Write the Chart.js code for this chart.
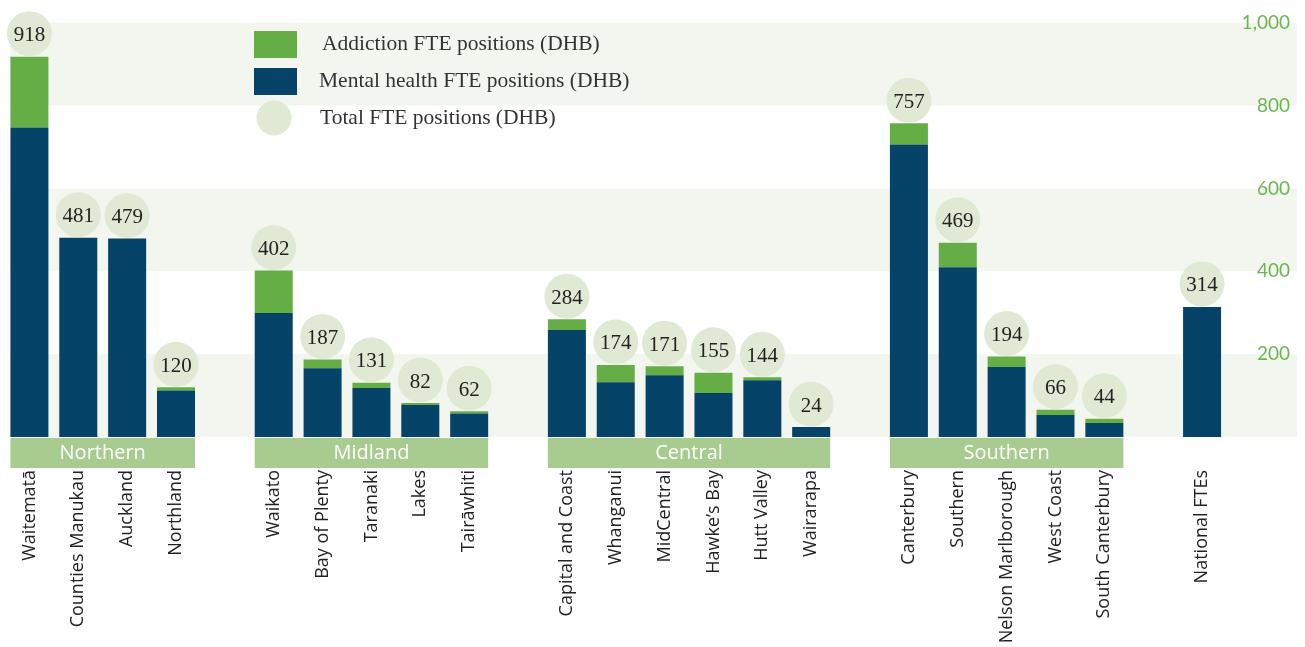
<!DOCTYPE html>
<html>
<head>
<meta charset="utf-8">
<script src="https://cdn.jsdelivr.net/npm/chart.js@4"></script>
<style>
  body { margin: 0; background: #fff; }
  #wrap { width: 1305px; height: 647px; position: relative; }
</style>
</head>
<body>
<div id="wrap"><canvas id="fteChart"></canvas></div>
<script>
// DHB names, empty strings are the gaps between regions
const categories = [
    'Waitematā', 'Counties Manukau', 'Auckland', 'Northland', '',
    'Waikato', 'Bay of Plenty', 'Taranaki', 'Lakes', 'Tairāwhiti', '',
    'Capital and Coast', 'Whanganui', 'MidCentral', 'Hawke’s Bay', 'Hutt Valley', 'Wairarapa', '',
    'Canterbury', 'Southern', 'Nelson Marlborough', 'West Coast', 'South Canterbury', '',
    'National FTEs'
];
const regions = [
    'Northern', 'Northern', 'Northern', 'Northern', '',
    'Midland', 'Midland', 'Midland', 'Midland', 'Midland', '',
    'Central', 'Central', 'Central', 'Central', 'Central', 'Central', '',
    'Southern', 'Southern', 'Southern', 'Southern', 'Southern', '',
    ''
];
const mentalHealth = [747, 481, 479, 112, null, 299, 166, 118, 77, 57, null, 258, 132, 149, 106, 137, 24, null, 706, 410, 169, 53, 34, null, 314];
const addiction = [171, 0, 0, 8, null, 103, 21, 13, 5, 5, null, 26, 42, 22, 49, 7, 0, null, 51, 59, 25, 13, 10, null, 0];
const yTicks = [200, 400, 600, 800, 1000];

const navy = '#064369';
const green = '#64ae45';
const bubble = '#dfe9d4';
const stripe = '#f3f6ef';
const regionFill = '#a8cc90';
const serif = '"Liberation Serif", serif';
const sans = '"Open Sans", sans-serif';

// light stripes behind everything
const stripesPlugin = {
    id: 'stripes',
    beforeDraw(chart) {
        const { ctx, chartArea, scales: { y } } = chart;
        const stops = [0].concat(yTicks);
        ctx.save();
        ctx.fillStyle = stripe;
        for (let i = 0; i < stops.length - 1; i += 2) {
            const top = y.getPixelForValue(stops[i + 1]);
            const bottom = y.getPixelForValue(stops[i]);
            ctx.fillRect(chartArea.left + 5, top, chart.width - 13 - chartArea.left, bottom - top);
        }
        ctx.restore();
    }
};

// region bands under the axis
const regionsPlugin = {
    id: 'regions',
    beforeDatasetsDraw(chart) {
        const { ctx, chartArea } = chart;
        const meta = chart.getDatasetMeta(0);
        const names = [...new Set(regions.filter(r => r))];
        ctx.save();
        names.forEach(name => {
            const a = meta.data[regions.indexOf(name)];
            const b = meta.data[regions.lastIndexOf(name)];
            const left = a.x - a.width / 2;
            const right = b.x + b.width / 2;
            ctx.fillStyle = regionFill;
            ctx.fillRect(left, chartArea.bottom + 1, right - left, 30);
            ctx.fillStyle = '#fff';
            ctx.font = '20px ' + sans;
            ctx.textAlign = 'center';
            ctx.textBaseline = 'middle';
            ctx.fillText(name, (left + right) / 2, chartArea.bottom + 16);
        });
        ctx.restore();
    }
};

// total bubbles above each bar and the legend
const totalsPlugin = {
    id: 'totals',
    afterDatasetsDraw(chart) {
        const { ctx } = chart;
        const m0 = chart.getDatasetMeta(0);
        const m1 = chart.getDatasetMeta(1);
        ctx.save();
        categories.forEach((c, i) => {
            if (mentalHealth[i] == null) return;
            const total = mentalHealth[i] + addiction[i];
            const x = m0.data[i].x;
            const top = Math.min(m0.data[i].y, m1.data[i].y);
            ctx.fillStyle = bubble;
            ctx.beginPath();
            ctx.arc(x, top - 23, 22.5, 0, Math.PI * 2);
            ctx.fill();
            ctx.fillStyle = '#222';
            ctx.font = '21px ' + serif;
            ctx.textAlign = 'center';
            ctx.textBaseline = 'middle';
            ctx.fillText(total, x, top - 21);
        });

        // legend
        const items = [
            { label: chart.data.datasets[1].label, color: green, y: 44, x: 322 },
            { label: chart.data.datasets[0].label, color: navy, y: 81, x: 319 },
            { label: 'Total FTE positions (DHB)', color: bubble, y: 118, x: 320, round: true }
        ];
        items.forEach(it => {
            ctx.fillStyle = it.color;
            if (it.round) {
                ctx.beginPath();
                ctx.arc(274, it.y, 17.5, 0, Math.PI * 2);
                ctx.fill();
            } else {
                ctx.fillRect(254, it.y - 13, 43, 27);
            }
            ctx.fillStyle = '#333';
            ctx.font = '21.5px ' + serif;
            ctx.textAlign = 'left';
            ctx.textBaseline = 'middle';
            ctx.fillText(it.label, it.x, it.y);
        });
        ctx.restore();
    }
};

const ctx = document.getElementById('fteChart').getContext('2d');
const fteChart = new Chart(ctx, {
    type: 'bar',
    data: {
        labels: categories,
        datasets: [
            {
                label: 'Mental health FTE positions (DHB)',
                data: mentalHealth,
                backgroundColor: navy
            },
            {
                label: 'Addiction FTE positions (DHB)',
                data: addiction,
                backgroundColor: green
            }
        ]
    },
    options: {
        responsive: true,
        maintainAspectRatio: false,
        animation: false,
        layout: { padding: { top: 14, left: 5, right: 15, bottom: 0 } },
        datasets: { bar: { categoryPercentage: 1, barPercentage: 0.778 } },
        plugins: {
            legend: { display: false },
            tooltip: { enabled: false }
        },
        scales: {
            x: {
                stacked: true,
                grid: { display: false, drawTicks: true, tickLength: 30 },
                border: { display: false },
                ticks: {
                    autoSkip: false,
                    minRotation: 90,
                    maxRotation: 90,
                    padding: 3,
                    color: '#222',
                    font: { family: sans, size: 18 }
                },
                afterFit(scale) { scale.height = 210; }
            },
            y: {
                stacked: true,
                position: 'right',
                min: 0,
                max: 1020,
                grid: { display: false, drawTicks: false },
                border: { display: false },
                afterBuildTicks(scale) { scale.ticks = yTicks.map(v => ({ value: v })); },
                ticks: {
                    crossAlign: 'far',
                    color: '#6ab74f',
                    font: { family: '"Lato", sans-serif', size: 19 }
                },
                afterFit(scale) { scale.width = 63.5; }
            }
        }
    },
    plugins: [stripesPlugin, regionsPlugin, totalsPlugin]
});
</script>
</body>
</html>
